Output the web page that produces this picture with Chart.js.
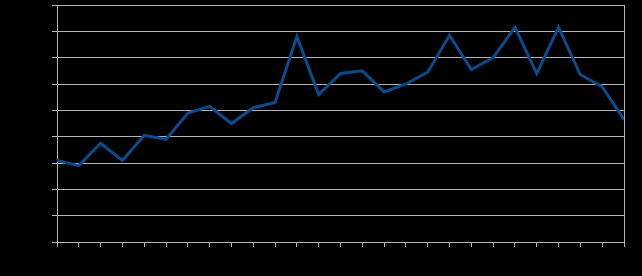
<!DOCTYPE html>
<html>
<head>
<meta charset="utf-8">
<script src="https://cdn.jsdelivr.net/npm/chart.js@4/dist/chart.umd.min.js"></script>
<style>
  html, body { margin: 0; padding: 0; background: #000; }
  #wrap { width: 642px; height: 276px; background: #000; }
</style>
</head>
<body>
<div id="wrap"><canvas id="chart"></canvas></div>
<script>
// x categories (labels are black on black in the reference)
const categories = ['1','2','3','4','5','6','7','8','9','10','11','12','13','14',
    '15','16','17','18','19','20','21','22','23','24','25','26','27'];

// series values
const seriesValues = [31, 29, 37.5, 31, 40.5, 39, 49, 51.5, 45, 51, 53, 78, 56, 64, 65,
    57, 60, 64.5, 78.5, 65.5, 70, 81.5, 64, 81.5, 63.5, 59, 46.5];

// y axis ticks
const yMin = 0;
const yMax = 90;
const yStep = 10;

const GRID = '#b4b4b4';
const LINE = '#0b4b8c';

// frame around the plot area (right edge)
const frame = {
    id: 'frame',
    afterDraw(chart) {
        const { ctx, chartArea } = chart;
        ctx.save();
        ctx.strokeStyle = GRID;
        ctx.lineWidth = 1;
        ctx.beginPath();
        ctx.moveTo(chartArea.right + 0.5, chartArea.top);
        ctx.lineTo(chartArea.right + 0.5, chartArea.bottom + 5);
        ctx.stroke();
        ctx.restore();
    }
};

new Chart(document.getElementById('chart'), {
    type: 'line',
    data: {
        labels: categories,
        datasets: [{
            data: seriesValues,
            borderColor: LINE,
            borderWidth: 3,
            pointRadius: 0,
            tension: 0,
            fill: false
        }]
    },
    options: {
        responsive: true,
        maintainAspectRatio: false,
        animation: false,
        layout: { padding: { top: 0, right: 18, left: 0, bottom: 0 } },
        plugins: { legend: { display: false }, tooltip: { enabled: false } },
        scales: {
            x: {
                offset: false,
                grid: { drawOnChartArea: false, color: GRID, tickLength: 5 },
                border: { color: GRID },
                ticks: { color: '#000', maxRotation: 0 },
                afterFit(scale) { scale.height = 34; }
            },
            y: {
                min: yMin,
                max: yMax,
                grid: { color: GRID, tickLength: 5 },
                border: { color: GRID },
                ticks: { stepSize: yStep, color: '#000', font: { size: 10 } },
                afterFit(scale) {
                    scale.width = 57;
                    scale.paddingTop = 5;
                    scale.paddingBottom = 0;
                }
            }
        }
    },
    plugins: [frame]
});
</script>
</body>
</html>
